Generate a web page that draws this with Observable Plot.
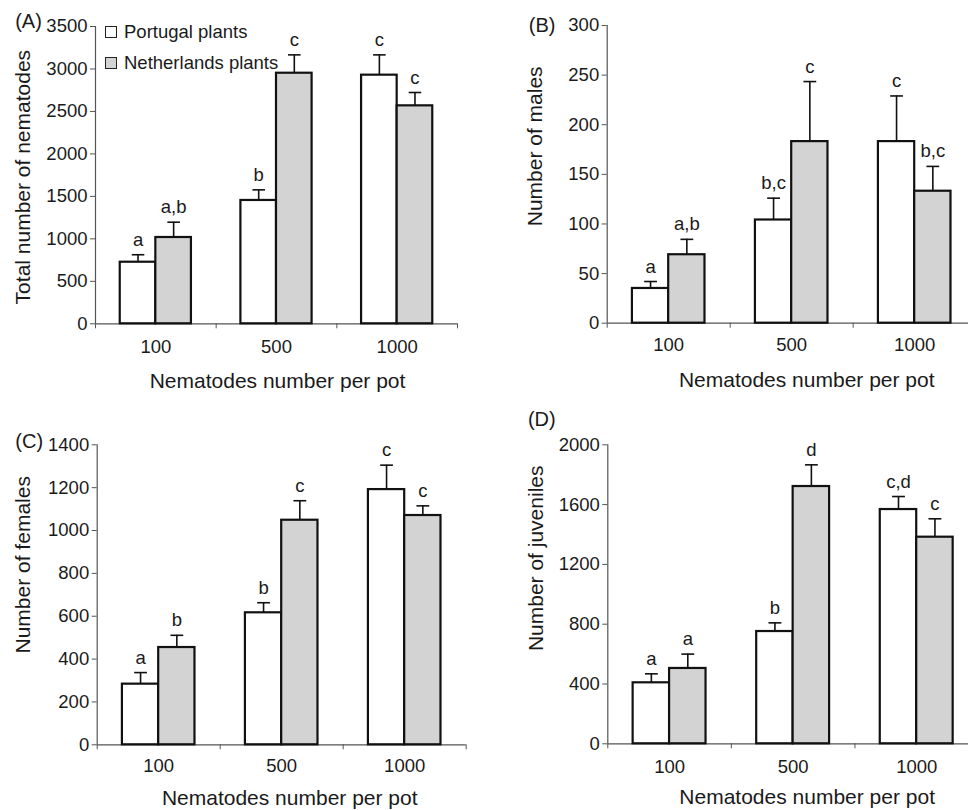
<!DOCTYPE html>
<html>
<head>
<meta charset="utf-8">
<script src="https://cdn.jsdelivr.net/npm/d3@7"></script>
<script src="https://cdn.jsdelivr.net/npm/@observablehq/plot@0.6"></script>
<style>
  body { margin: 0; background: #fff; }
  #fig { position: relative; width: 968px; height: 810px; overflow: hidden;
         font-family: "Liberation Sans", Arial, sans-serif; color: #1a1a1a; background: #fff; }
  .panel { position: absolute; }
  .panel svg { max-width: none !important; }
  .legend { position: absolute; left: 105px; top: 17px; font-size: 18.5px; }
  .legend .item { display: flex; align-items: center; height: 30.5px; }
  .legend .sw { width: 12px; height: 12px; border: 1.2px solid #222; margin-right: 7px; box-sizing: border-box; }
</style>
</head>
<body>
<div id="fig"></div>
<script>
// ---------- data ----------
const categories = ["100", "500", "1000"];
const seriesNames = ["Portugal plants", "Netherlands plants"];
const xTitle = "Nematodes number per pot";

// (A) total number of nematodes
const totalPortugal = [725, 1452, 2927];
const totalPortugalSE = [88, 125, 239];
const totalNetherlands = [1016, 2950, 2566];
const totalNetherlandsSE = [180, 216, 157];
const totalLettersPortugal = ["a", "b", "c"];
const totalLettersNetherlands = ["a,b", "c", "c"];
const totalTicks = [0, 500, 1000, 1500, 2000, 2500, 3000, 3500];

// (B) males
const malesPortugal = [35, 104, 183];
const malesPortugalSE = [7, 22, 46];
const malesNetherlands = [69, 183, 133];
const malesNetherlandsSE = [15.5, 60.5, 25];
const malesLettersPortugal = ["a", "b,c", "c"];
const malesLettersNetherlands = ["a,b", "c", "b,c"];
const malesTicks = [0, 50, 100, 150, 200, 250, 300];

// (C) females
const femalesPortugal = [283, 616, 1191];
const femalesPortugalSE = [54, 47, 114];
const femalesNetherlands = [454, 1048, 1070];
const femalesNetherlandsSE = [57, 91, 45];
const femalesLettersPortugal = ["a", "b", "c"];
const femalesLettersNetherlands = ["b", "c", "c"];
const femalesTicks = [0, 200, 400, 600, 800, 1000, 1200, 1400];

// (D) juveniles
const juvenilesPortugal = [408, 751, 1567];
const juvenilesPortugalSE = [60, 58, 87];
const juvenilesNetherlands = [504, 1721, 1382];
const juvenilesNetherlandsSE = [96, 145, 123];
const juvenilesLettersPortugal = ["a", "b", "c,d"];
const juvenilesLettersNetherlands = ["a", "d", "c"];
const juvenilesTicks = [0, 400, 800, 1200, 1600, 2000];

// ---------- styles ----------
const seriesFill = ["#ffffff", "#d3d3d3"];
const INK = "#111";
const AXIS = "#555";
const FONT = "'Liberation Sans', Arial, sans-serif";

function drawPanel(cfg) {
  const rows = [];
  categories.forEach((cat, i) => {
    rows.push({cat, group: i, side: 0, series: seriesNames[0], value: cfg.p[i], se: cfg.pSE[i], letter: cfg.pL[i]});
    rows.push({cat, group: i, side: 1, series: seriesNames[1], value: cfg.n[i], se: cfg.nSE[i], letter: cfg.nL[i]});
  });
  const BW = 0.295;   // bar width as a fraction of a category band
  const CAP = 0.052;  // half cap width, same units
  const x1 = d => d.group + 0.5 - (d.side ? 0 : BW);
  const x2 = d => d.group + 0.5 + (d.side ? BW : 0);
  const xc = d => d.group + 0.5 + (d.side ? BW / 2 : -BW / 2);
  const top = d => d.value + d.se;
  const yMax = cfg.ticks[cfg.ticks.length - 1];

  const plot = Plot.plot({
    width: cfg.width, height: cfg.height,
    marginLeft: cfg.ml, marginRight: cfg.mr, marginTop: cfg.mt, marginBottom: cfg.mb,
    x: {domain: [0, categories.length], axis: null},
    y: {domain: [0, yMax], axis: null},
    style: {fontFamily: FONT, fontSize: "18px", color: "#1a1a1a", background: "transparent", overflow: "visible", maxWidth: "none"},
    marks: [
      Plot.axisY({ticks: cfg.ticks, tickSize: 5, tickPadding: 3, tickFormat: d => String(d), fontSize: 18.5, stroke: AXIS, label: null}),
      Plot.axisX({ticks: d3.range(categories.length + 1), tickSize: 5, tickFormat: () => "", stroke: AXIS, label: null}),
      Plot.axisX({ticks: categories.map((c, i) => i + 0.5), tickSize: 0, tickPadding: cfg.xPad,
                  tickFormat: v => categories[Math.floor(v)], fontSize: 18.5, label: null}),
      Plot.ruleY([0], {stroke: AXIS, strokeWidth: 1.2}),
      Plot.ruleX([0], {y1: 0, y2: yMax, stroke: AXIS, strokeWidth: 1.2}),
      Plot.rectY(rows, {filter: d => d.side === 0, x1, x2, y: "value", fill: seriesFill[0], stroke: INK, strokeWidth: 2.2}),
      Plot.rectY(rows, {filter: d => d.side === 1, x1, x2, y: "value", fill: seriesFill[1], stroke: INK, strokeWidth: 2.2}),
      Plot.ruleX(rows, {x: xc, y1: "value", y2: top, stroke: INK, strokeWidth: 1.6}),
      Plot.link(rows, {x1: d => xc(d) - CAP, x2: d => xc(d) + CAP, y1: top, y2: top, stroke: INK, strokeWidth: 1.6}),
      Plot.text(rows, {x: xc, y: top, text: "letter", lineAnchor: "bottom", dy: -9, fontSize: 18.5}),
      Plot.text([cfg.tag], {frameAnchor: "top-left", dx: cfg.tagDx, dy: cfg.tagDy, fontSize: 20, textAnchor: "middle", lineAnchor: "middle"}),
      Plot.text([cfg.ylabel], {frameAnchor: "left", rotate: -90, dx: cfg.ylDx, dy: cfg.ylDy, fontSize: 21, textAnchor: "middle", lineAnchor: "middle"}),
      Plot.text([xTitle], {frameAnchor: "bottom", dx: cfg.xlDx, dy: cfg.xlDy, fontSize: 21, textAnchor: "middle", lineAnchor: "middle"})
    ]
  });
  const div = document.createElement("div");
  div.className = "panel";
  div.style.left = cfg.left + "px";
  div.style.top = cfg.top + "px";
  div.style.width = cfg.width + "px";
  div.style.height = cfg.height + "px";
  div.appendChild(plot);
  document.getElementById("fig").appendChild(div);
}

drawPanel({tag: "(A)", ylabel: "Total number of nematodes",
  p: totalPortugal, pSE: totalPortugalSE, n: totalNetherlands, nSE: totalNetherlandsSE,
  pL: totalLettersPortugal, nL: totalLettersNetherlands, ticks: totalTicks,
  left: 0, top: 0, width: 484, height: 400, ml: 95, mr: 27, mt: 26, mb: 76.7,
  xPad: 16, tagDx: -67, tagDy: -5, ylDx: -72, ylDy: 2, xlDx: 1, xlDy: 57});

drawPanel({tag: "(B)", ylabel: "Number of males",
  p: malesPortugal, pSE: malesPortugalSE, n: malesNetherlands, nSE: malesNetherlandsSE,
  pL: malesLettersPortugal, nL: malesLettersNetherlands, ticks: malesTicks,
  left: 484, top: 0, width: 500, height: 400, ml: 122.7, mr: 8.3, mt: 25, mb: 77.3,
  xPad: 15, tagDx: -65, tagDy: 0, ylDx: -72, ylDy: -28, xlDx: 15, xlDy: 57});

drawPanel({tag: "(C)", ylabel: "Number of females",
  p: femalesPortugal, pSE: femalesPortugalSE, n: femalesNetherlands, nSE: femalesNetherlandsSE,
  pL: femalesLettersPortugal, nL: femalesLettersNetherlands, ticks: femalesTicks,
  left: 0, top: 400, width: 484, height: 410, ml: 96.7, mr: 18.3, mt: 44.3, mb: 65.7,
  xPad: 14, tagDx: -68, tagDy: -3, ylDx: -74, ylDy: -30, xlDx: 8, xlDy: 53.5});

drawPanel({tag: "(D)", ylabel: "Number of juveniles",
  p: juvenilesPortugal, pSE: juvenilesPortugalSE, n: juvenilesNetherlands, nSE: juvenilesNetherlandsSE,
  pL: juvenilesLettersPortugal, nL: juvenilesLettersNetherlands, ticks: juvenilesTicks,
  left: 484, top: 400, width: 500, height: 410, ml: 123.3, mr: 6, mt: 44.3, mb: 66.7,
  xPad: 16, tagDx: -66, tagDy: -25, ylDx: -72, ylDy: -36, xlDx: 14, xlDy: 53.5});

// legend inside panel (A)
const legend = document.createElement("div");
legend.className = "legend";
seriesNames.forEach((name, i) => {
  const item = document.createElement("div");
  item.className = "item";
  const sw = document.createElement("span");
  sw.className = "sw";
  sw.style.background = seriesFill[i];
  const label = document.createElement("span");
  label.textContent = name;
  item.appendChild(sw);
  item.appendChild(label);
  legend.appendChild(item);
});
document.getElementById("fig").appendChild(legend);
</script>
</body>
</html>
